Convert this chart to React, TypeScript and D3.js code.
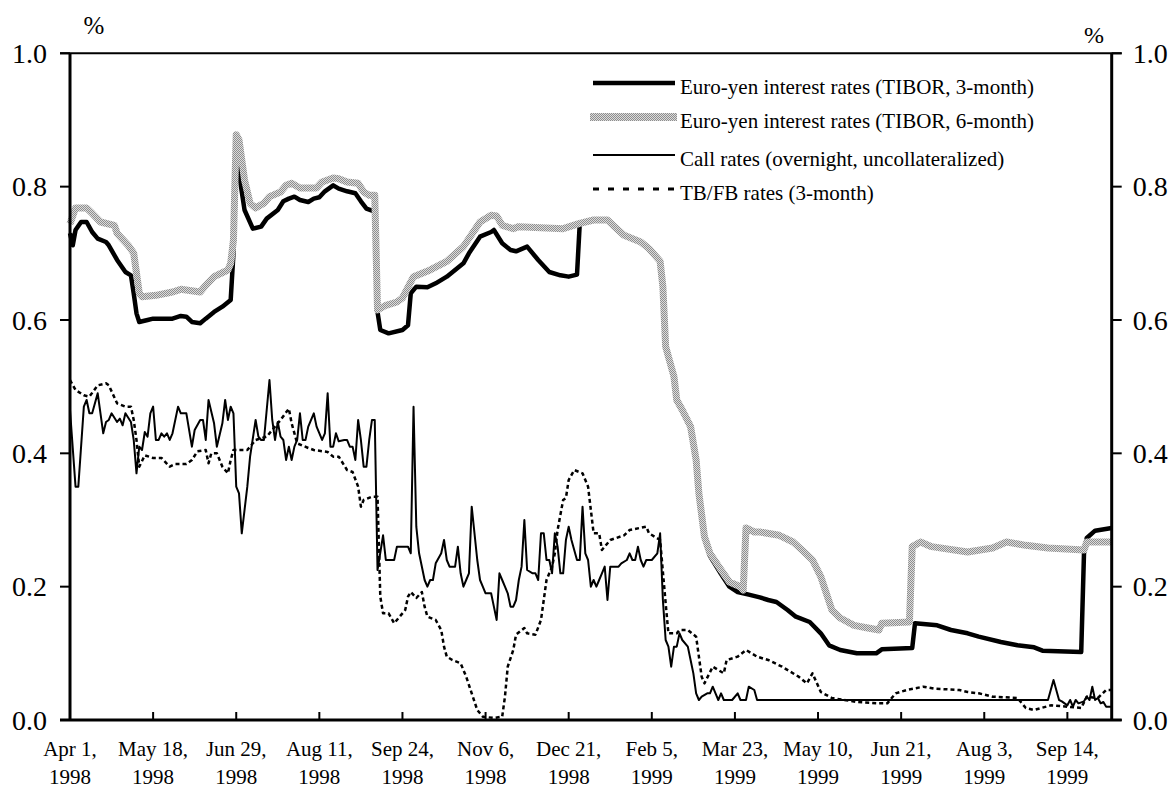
import React, { useEffect, useRef } from 'react';
import * as d3 from 'd3';

// x = business-day index counted from Apr 1, 1998; y = percent
type Pt = [number, number];

const lastIndex = 376;

const xTickIndex = [0, 30, 60, 90, 120, 150, 180, 210, 240, 270, 300, 330, 360];
const xTickDates = ['Apr 1,', 'May 18,', 'Jun 29,', 'Aug 11,', 'Sep 24,', 'Nov 6,', 'Dec 21,', 'Feb 5,', 'Mar 23,', 'May 10,', 'Jun 21,', 'Aug 3,', 'Sep 14,'];
const xTickYears = ['1998', '1998', '1998', '1998', '1998', '1998', '1998', '1999', '1999', '1999', '1999', '1999', '1999'];
const yTicks = [0, 0.2, 0.4, 0.6, 0.8, 1.0];

const legendLabels = [
    'Euro-yen interest rates (TIBOR, 3-month)',
    'Euro-yen interest rates (TIBOR, 6-month)',
    'Call rates (overnight, uncollateralized)',
    'TB/FB rates (3-month)'
];

const tibor3m: Pt[] = [
    [0, 0.73], [1, 0.712], [2, 0.735], [4, 0.747], [6, 0.747], [8, 0.732], [10, 0.722], [13, 0.717], [14, 0.712],
    [17, 0.69], [20, 0.672], [22, 0.667], [23, 0.64], [24, 0.61], [25, 0.597], [28, 0.6], [30, 0.602], [37, 0.602],
    [40, 0.606], [42, 0.605], [44, 0.597], [47, 0.595], [49, 0.602], [52, 0.612], [55, 0.62], [58, 0.63], [59, 0.7],
    [60, 0.84], [61, 0.82], [63, 0.765], [66, 0.737], [69, 0.74], [71, 0.752], [75, 0.765], [77, 0.778], [79, 0.782],
    [81, 0.785], [83, 0.78], [86, 0.777], [88, 0.782], [90, 0.784], [92, 0.793], [95, 0.802], [97, 0.797], [100, 0.793],
    [103, 0.79], [105, 0.778], [107, 0.767], [109, 0.764], [110, 0.764], [111, 0.612], [112, 0.585], [115, 0.58],
    [120, 0.585], [122, 0.592], [123, 0.64], [125, 0.65], [129, 0.649], [132, 0.655], [136, 0.665], [142, 0.685],
    [144, 0.7], [148, 0.725], [152, 0.732], [153, 0.735], [156, 0.715], [159, 0.705], [161, 0.703], [165, 0.71],
    [169, 0.69], [173, 0.672], [177, 0.667], [180, 0.665], [183, 0.668], [184, 0.745], [189, 0.75], [194, 0.75],
    [196, 0.742], [200, 0.727], [206, 0.717], [209, 0.707], [213, 0.688], [214, 0.65], [215, 0.56], [218, 0.515],
    [219, 0.48], [221, 0.465], [224, 0.44], [226, 0.39], [227, 0.34], [229, 0.272], [231, 0.246], [235, 0.219],
    [238, 0.2], [241, 0.192], [245, 0.188], [249, 0.184], [252, 0.18], [255, 0.177], [259, 0.165], [262, 0.155],
    [267, 0.147], [271, 0.13], [274, 0.112], [278, 0.105], [284, 0.1], [291, 0.1], [293, 0.106], [304, 0.108],
    [305, 0.145], [313, 0.142], [318, 0.135], [324, 0.13], [328, 0.125], [336, 0.117], [342, 0.112], [348, 0.109],
    [351, 0.104], [365, 0.102], [366, 0.25], [367, 0.273], [370, 0.284], [376, 0.288]
];

const tibor6m: Pt[] = [
    [0, 0.744], [2, 0.768], [6, 0.768], [8, 0.76], [11, 0.747], [16, 0.742], [17, 0.73], [21, 0.712], [23, 0.7],
    [24, 0.67], [25, 0.64], [26, 0.635], [31, 0.637], [37, 0.642], [40, 0.646], [47, 0.642], [49, 0.652], [52, 0.665],
    [57, 0.675], [58, 0.685], [59, 0.72], [60, 0.878], [61, 0.87], [63, 0.81], [65, 0.775], [67, 0.768], [70, 0.775],
    [72, 0.785], [76, 0.792], [78, 0.802], [80, 0.805], [83, 0.798], [89, 0.798], [91, 0.807], [95, 0.813], [97, 0.812],
    [100, 0.807], [104, 0.805], [106, 0.792], [108, 0.787], [110, 0.787], [111, 0.615], [114, 0.622], [118, 0.627],
    [120, 0.633], [124, 0.665], [130, 0.675], [136, 0.688], [142, 0.71], [148, 0.747], [152, 0.757], [154, 0.756],
    [156, 0.742], [160, 0.737], [162, 0.74], [178, 0.737], [184, 0.745], [189, 0.75], [194, 0.75], [196, 0.742],
    [200, 0.727], [206, 0.717], [209, 0.707], [213, 0.688], [214, 0.65], [215, 0.56], [218, 0.515], [219, 0.48],
    [221, 0.465], [224, 0.44], [226, 0.39], [227, 0.34], [229, 0.275], [231, 0.25], [235, 0.225], [238, 0.207],
    [242, 0.2], [243, 0.195], [244, 0.288], [247, 0.282], [249, 0.282], [256, 0.277], [261, 0.267], [265, 0.252],
    [268, 0.24], [271, 0.215], [273, 0.19], [275, 0.165], [278, 0.153], [283, 0.142], [288, 0.138], [292, 0.135],
    [293, 0.145], [303, 0.147], [304, 0.26], [307, 0.267], [311, 0.26], [324, 0.252], [333, 0.258], [338, 0.267],
    [345, 0.262], [353, 0.258], [366, 0.255], [367, 0.267], [376, 0.267]
];

const callRate: Pt[] = [
    [0, 0.465], [2, 0.35], [3, 0.35], [5, 0.47], [6, 0.48], [7, 0.46], [8, 0.46], [10, 0.49], [12, 0.43], [13, 0.447],
    [14, 0.45], [15, 0.46], [17, 0.447], [18, 0.452], [19, 0.442], [20, 0.46], [22, 0.447], [23, 0.42], [24, 0.37],
    [25, 0.41], [26, 0.405], [27, 0.432], [28, 0.425], [29, 0.46], [30, 0.47], [31, 0.42], [32, 0.42], [33, 0.43],
    [34, 0.425], [35, 0.43], [36, 0.42], [37, 0.43], [39, 0.47], [40, 0.46], [42, 0.46], [44, 0.41], [45, 0.435],
    [47, 0.45], [48, 0.45], [49, 0.42], [50, 0.48], [52, 0.445], [53, 0.41], [55, 0.445], [56, 0.48], [57, 0.45],
    [58, 0.47], [59, 0.46], [60, 0.35], [61, 0.34], [62, 0.28], [64, 0.35], [65, 0.395], [67, 0.45], [68, 0.425],
    [69, 0.42], [70, 0.42], [72, 0.51], [73, 0.45], [74, 0.42], [75, 0.447], [76, 0.425], [77, 0.42], [78, 0.39],
    [79, 0.41], [80, 0.39], [81, 0.41], [82, 0.42], [83, 0.46], [84, 0.42], [85, 0.42], [86, 0.44], [88, 0.46],
    [89, 0.44], [91, 0.42], [92, 0.43], [93, 0.49], [94, 0.41], [95, 0.41], [96, 0.43], [97, 0.418], [99, 0.42],
    [100, 0.42], [101, 0.41], [102, 0.41], [103, 0.39], [104, 0.45], [105, 0.42], [106, 0.38], [107, 0.38], [108, 0.42],
    [109, 0.45], [110, 0.45], [111, 0.225], [113, 0.277], [114, 0.24], [117, 0.24], [118, 0.26], [122, 0.26],
    [123, 0.25], [124, 0.47], [125, 0.29], [126, 0.25], [128, 0.21], [129, 0.2], [130, 0.21], [131, 0.21], [132, 0.235],
    [134, 0.25], [135, 0.27], [136, 0.24], [137, 0.23], [139, 0.23], [140, 0.26], [141, 0.22], [142, 0.2], [143, 0.21],
    [144, 0.22], [145, 0.32], [147, 0.24], [148, 0.21], [149, 0.2], [150, 0.19], [152, 0.19], [153, 0.17], [154, 0.15],
    [155, 0.22], [156, 0.21], [157, 0.2], [158, 0.19], [159, 0.17], [160, 0.17], [161, 0.18], [162, 0.21], [163, 0.23],
    [164, 0.3], [165, 0.225], [167, 0.22], [168, 0.22], [169, 0.21], [170, 0.28], [171, 0.28], [172, 0.24], [173, 0.24],
    [174, 0.22], [175, 0.28], [176, 0.26], [177, 0.22], [178, 0.22], [179, 0.27], [180, 0.29], [181, 0.27], [183, 0.24],
    [184, 0.24], [185, 0.32], [186, 0.25], [187, 0.24], [188, 0.2], [189, 0.21], [190, 0.2], [191, 0.21], [192, 0.22],
    [193, 0.23], [194, 0.18], [195, 0.23], [197, 0.23], [198, 0.23], [199, 0.235], [201, 0.24], [202, 0.25], [203, 0.24],
    [204, 0.24], [205, 0.26], [206, 0.24], [207, 0.23], [208, 0.24], [210, 0.24], [212, 0.25], [213, 0.28], [214, 0.18],
    [215, 0.12], [216, 0.11], [217, 0.08], [218, 0.11], [219, 0.11], [220, 0.13], [221, 0.12], [223, 0.11], [224, 0.09],
    [225, 0.07], [226, 0.04], [227, 0.03], [228, 0.035], [230, 0.04], [231, 0.04], [232, 0.05], [233, 0.04], [234, 0.03],
    [235, 0.04], [236, 0.03], [239, 0.03], [241, 0.04], [242, 0.03], [244, 0.03], [245, 0.05], [247, 0.045], [248, 0.03],
    [353, 0.03], [355, 0.06], [357, 0.03], [358, 0.028], [360, 0.022], [361, 0.03], [362, 0.02], [363, 0.03],
    [364, 0.025], [366, 0.028], [367, 0.035], [368, 0.03], [369, 0.05], [370, 0.03], [371, 0.033], [372, 0.025],
    [373, 0.027], [374, 0.02], [376, 0.02]
];

const tbRate: Pt[] = [
    [0, 0.51], [2, 0.495], [5, 0.487], [7, 0.485], [10, 0.502], [13, 0.505], [14, 0.502], [17, 0.475], [20, 0.47],
    [22, 0.47], [23, 0.45], [24, 0.42], [25, 0.38], [27, 0.397], [30, 0.393], [33, 0.393], [36, 0.38], [38, 0.384],
    [42, 0.384], [44, 0.39], [46, 0.403], [49, 0.405], [50, 0.385], [51, 0.4], [53, 0.4], [55, 0.38], [57, 0.37],
    [58, 0.39], [59, 0.405], [64, 0.405], [67, 0.42], [71, 0.425], [73, 0.435], [76, 0.45], [79, 0.467], [80, 0.445],
    [82, 0.415], [86, 0.408], [88, 0.405], [93, 0.402], [95, 0.395], [97, 0.395], [100, 0.375], [102, 0.372],
    [104, 0.35], [105, 0.32], [106, 0.33], [109, 0.335], [111, 0.335], [112, 0.185], [113, 0.16], [115, 0.16],
    [117, 0.145], [119, 0.155], [121, 0.165], [122, 0.185], [123, 0.192], [125, 0.183], [127, 0.192], [128, 0.17],
    [129, 0.155], [132, 0.15], [134, 0.135], [135, 0.11], [136, 0.095], [138, 0.09], [141, 0.085], [143, 0.065],
    [145, 0.04], [147, 0.015], [149, 0.005], [153, 0.003], [156, 0.005], [157, 0.035], [158, 0.08], [160, 0.105],
    [161, 0.128], [164, 0.138], [165, 0.13], [168, 0.128], [170, 0.15], [171, 0.18], [172, 0.21], [174, 0.23],
    [175, 0.25], [176, 0.285], [178, 0.33], [179, 0.333], [180, 0.36], [182, 0.375], [185, 0.37], [187, 0.35],
    [188, 0.315], [189, 0.28], [191, 0.28], [192, 0.255], [195, 0.27], [200, 0.277], [202, 0.285], [208, 0.29],
    [209, 0.28], [213, 0.27], [215, 0.175], [216, 0.13], [219, 0.13], [220, 0.135], [223, 0.135], [226, 0.125],
    [227, 0.095], [228, 0.065], [229, 0.055], [232, 0.08], [234, 0.075], [236, 0.07], [237, 0.09], [241, 0.095],
    [244, 0.105], [248, 0.095], [252, 0.09], [257, 0.08], [263, 0.065], [266, 0.055], [268, 0.07], [271, 0.042],
    [275, 0.033], [284, 0.027], [291, 0.025], [295, 0.025], [298, 0.04], [302, 0.045], [308, 0.05], [312, 0.047],
    [321, 0.045], [324, 0.042], [328, 0.04], [333, 0.035], [342, 0.033], [345, 0.018], [348, 0.015], [354, 0.022],
    [360, 0.02], [365, 0.018], [367, 0.035], [371, 0.033], [374, 0.045], [376, 0.045]
];

const W = 1175;
const H = 790;
const FONT = '"Liberation Serif", "Times New Roman", Times, serif';

const RateChart: React.FC = () => {
    const svgRef = useRef<SVGSVGElement>(null);

    useEffect(() => {
        const svg = d3.select(svgRef.current);
        svg.selectAll('*').remove();

        const left = 70, right = 1111.7, top = 53.3, bottom = 720;

        const x = d3.scaleLinear().domain([0, lastIndex]).range([left, right]);
        const y = d3.scaleLinear().domain([0, 1]).range([bottom, top]);

        // dithered gray used for the 6-month TIBOR line
        const pat = svg.append('defs').append('pattern')
            .attr('id', 'grayDots')
            .attr('patternUnits', 'userSpaceOnUse')
            .attr('width', 2)
            .attr('height', 2);
        pat.append('rect').attr('width', 2).attr('height', 2).attr('fill', '#dcdcdc');
        pat.append('rect').attr('width', 1).attr('height', 1).attr('fill', '#8e8e8e');
        pat.append('rect').attr('x', 1).attr('y', 1).attr('width', 1).attr('height', 1).attr('fill', '#8e8e8e');

        const line = d3.line<Pt>()
            .x(d => x(d[0]))
            .y(d => y(d[1]));

        const series = [
            { data: tibor3m, stroke: '#000', width: 4.5, dash: null, legendWidth: 4.5, legendDash: null },
            { data: tibor6m, stroke: 'url(#grayDots)', width: 7, dash: null, legendWidth: 8, legendDash: null },
            { data: callRate, stroke: '#000', width: 2, dash: null, legendWidth: 2, legendDash: null },
            { data: tbRate, stroke: '#000', width: 2.5, dash: '4,3', legendWidth: 3, legendDash: '6,9' }
        ];

        series.forEach(s => {
            svg.append('path')
                .attr('d', line(s.data))
                .attr('fill', 'none')
                .attr('stroke', s.stroke)
                .attr('stroke-width', s.width)
                .attr('stroke-linejoin', 'round')
                .attr('stroke-dasharray', s.dash);
        });

        // Frame
        const axes = svg.append('g').attr('stroke', '#000');
        axes.append('line').attr('x1', left - 10).attr('x2', right + 10).attr('y1', top).attr('y2', top).attr('stroke-width', 2);
        axes.append('line').attr('x1', left - 10).attr('x2', right + 10).attr('y1', bottom).attr('y2', bottom).attr('stroke-width', 3);
        axes.append('line').attr('x1', left).attr('x2', left).attr('y1', top).attr('y2', bottom).attr('stroke-width', 3);
        axes.append('line').attr('x1', right).attr('x2', right).attr('y1', top).attr('y2', bottom).attr('stroke-width', 3);

        // Y ticks, both sides
        yTicks.forEach(v => {
            axes.append('line').attr('x1', left - 10).attr('x2', left).attr('y1', y(v)).attr('y2', y(v)).attr('stroke-width', 2);
            axes.append('line').attr('x1', right).attr('x2', right + 10).attr('y1', y(v)).attr('y2', y(v)).attr('stroke-width', 2);
            svg.append('text')
                .attr('x', left - 23).attr('y', y(v)).attr('dy', '0.34em')
                .attr('text-anchor', 'end')
                .style('font-size', '28px')
                .text(v.toFixed(1));
            svg.append('text')
                .attr('x', right + 21).attr('y', y(v)).attr('dy', '0.34em')
                .attr('text-anchor', 'start')
                .style('font-size', '28px')
                .text(v.toFixed(1));
        });

        svg.append('text').attr('x', 94).attr('y', 34).attr('text-anchor', 'middle').style('font-size', '25px').text('%');
        svg.append('text').attr('x', 1094).attr('y', 43).attr('text-anchor', 'middle').style('font-size', '24px').text('%');

        // X ticks (inward) and two-line labels
        xTickIndex.forEach((idx, i) => {
            if (idx > 0) {
                axes.append('line').attr('x1', x(idx)).attr('x2', x(idx)).attr('y1', bottom - 8).attr('y2', bottom).attr('stroke-width', 2);
            }
            const t = svg.append('text')
                .attr('text-anchor', 'middle')
                .style('font-size', '21px');
            t.append('tspan').attr('x', x(idx)).attr('y', 756).text(xTickDates[i]);
            t.append('tspan').attr('x', x(idx)).attr('y', 784).text(xTickYears[i]);
        });

        // Legend
        const legendY = [83, 117, 155, 189];
        const lg = svg.append('g');
        series.forEach((s, i) => {
            lg.append('line')
                .attr('x1', i === 1 ? 590 : 593).attr('x2', i === 1 ? 677 : 675)
                .attr('y1', legendY[i]).attr('y2', legendY[i])
                .attr('stroke', s.stroke)
                .attr('stroke-width', s.legendWidth)
                .attr('stroke-dasharray', s.legendDash);
            lg.append('text')
                .attr('x', 680).attr('y', legendY[i] + 4).attr('dy', '0.34em')
                .style('font-size', '21px')
                .text(legendLabels[i]);
        });
    }, []);

    return (
        <svg
            ref={svgRef}
            width={W}
            height={H}
            style={{ position: 'absolute', left: 0, top: 0, background: '#fff', fontFamily: FONT }}
        />
    );
};

export default function App() {
    return <RateChart />;
}
